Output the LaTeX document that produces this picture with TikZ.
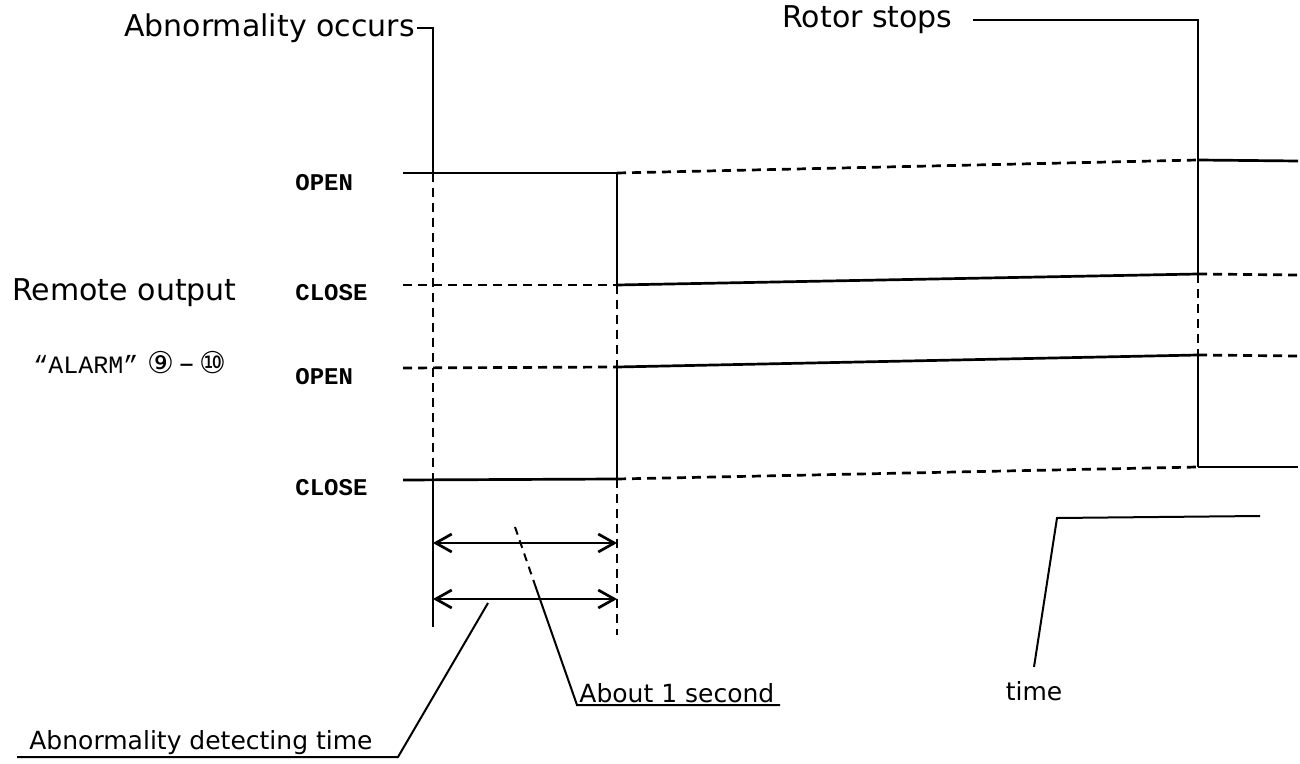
\documentclass[tikz,border=0pt]{standalone}
\usepackage{fontspec}
\setmainfont{DejaVu Sans}
\newfontfamily\levelfont{Liberation Mono}
\usetikzlibrary{arrows.meta, positioning}
\tikzset{
	signal/.style={line width=1.35pt}, % level that is in force
	idle/.style={signal, dash pattern=on 4.5pt off 3pt}, % level that is not in force
	level/.style={font=\levelfont\bfseries\fontsize{12}{14}\selectfont, anchor=west, inner sep=0pt},
	big label/.style={font=\fontsize{15}{18}\selectfont, inner sep=1pt},
	small label/.style={font=\fontsize{12.5}{15}\selectfont, inner sep=1pt},
	span/.style={signal, {Straight Barb[length=8pt,width=9pt]}-{Straight Barb[length=8pt,width=9pt]}},
	leader/.style={line width=1pt},
}

\begin{document}
\begin{tikzpicture}[x=0.5pt, y=-0.5pt]
    \useasboundingbox (0,0) rectangle (1300,764);
    % labels on the left
    \node [big label, anchor=west] (rem) at (10,293) {Remote output};
    \node [level, font=\levelfont\fontsize{12.5}{14}\selectfont] (alarm) at (33,363) {“ALARM”{\normalfont\fontsize{15}{16}\selectfont\ ⑨\,–\,⑩}};
    \node [level] (l1) at (295,183) {OPEN};
    \node [level] (l2) at (295,293) {CLOSE};
    \node [level] (l3) at (295,377) {OPEN};
    \node [level] (l4) at (295,488) {CLOSE};

    % points of the four levels
    \coordinate (s1) at (403,173); \coordinate (b1) at (617,173); \coordinate (c1) at (1198,160); \coordinate (e1) at (1298,161);
    \coordinate (s2) at (403,285); \coordinate (b2) at (617,285); \coordinate (c2) at (1198,274); \coordinate (e2) at (1298,275);
    \coordinate (s3) at (403,368); \coordinate (b3) at (617,367); \coordinate (c3) at (1198,355); \coordinate (e3) at (1298,356);
    \coordinate (s4) at (403,480); \coordinate (b4) at (617,479); \coordinate (c4) at (1198,467); \coordinate (e4) at (1298,467);

    \draw [signal] (s1) -- (b1);  \draw [idle] (b1) -- (c1);  \draw [signal] (c1) -- (e1);
    \draw [idle] (s2) -- (b2);    \draw [signal] (b2) -- (c2);  \draw [idle] (c2) -- (e2);
    \draw [idle] (s3) -- (b3);    \draw [signal] (b3) -- (c3);  \draw [idle] (c3) -- (e3);
    \draw [signal] (s4) -- (b4);  \draw [idle] (b4) -- (c4);  \draw [signal] (c4) -- (e4);

    % abnormality occurs
    \node [big label, anchor=east] (occ) at (417,28) {Abnormality occurs};
    \coordinate (a0) at (433,28); \coordinate (a1) at (433,173);
    \coordinate (a4) at (433,480); \coordinate (a5) at (433,627);
    \draw [signal] (occ.east) -- (a0) -- (a1);
    \draw [idle] (a1) -- (a4);
    \draw [signal] (a4) -- (a5);

    % output switches
    \coordinate (b5) at (617,635);
    \draw [signal] (b1) -- (b2);
    \draw [idle] (b2) -- (b3);
    \draw [signal] (b3) -- (b4);
    \draw [idle] (b4) -- (b5);

    % rotor stops
    \node [big label, anchor=east] (rot) at (955,20) {Rotor stops};
    \coordinate (c0) at (1198,20);
    \draw [signal] ([xshift=9pt]rot.east) -- (c0) -- (c1) -- (c2);
    \draw [idle] (c2) -- (c3);
    \draw [signal] (c3) -- (c4);

    % times between the two marks
    \draw [span] (433,543) -- (617,543);
    \draw [span] (433,599) -- (617,599);

    % leaders
    \coordinate (q0) at (515,527); \coordinate (q1) at (535,585);
    \coordinate (q2) at (577,705); \coordinate (q3) at (780,705);
    \draw [leader, dash pattern=on 4pt off 3pt] (q0) -- (q1);
    \draw [leader] (q1) -- (q2) -- (q3);
    \node [small label, anchor=south west] (sec) at (q2) {About 1 second};

    \coordinate (d0) at (488,603); \coordinate (d1) at (398,757); \coordinate (d2) at (17,757);
    \draw [leader] (d0) -- (d1) -- (d2);
    \node [small label, anchor=south west, xshift=5pt] (det) at (d2) {Abnormality detecting time};

    \coordinate (t0) at (1034,667); \coordinate (t1) at (1057,518); \coordinate (t2) at (1260,516);
    \draw [leader] (t0) -- (t1) -- (t2);
    \node [small label, below=6pt of t0] (tim) {time};
\end{tikzpicture}
\end{document}
